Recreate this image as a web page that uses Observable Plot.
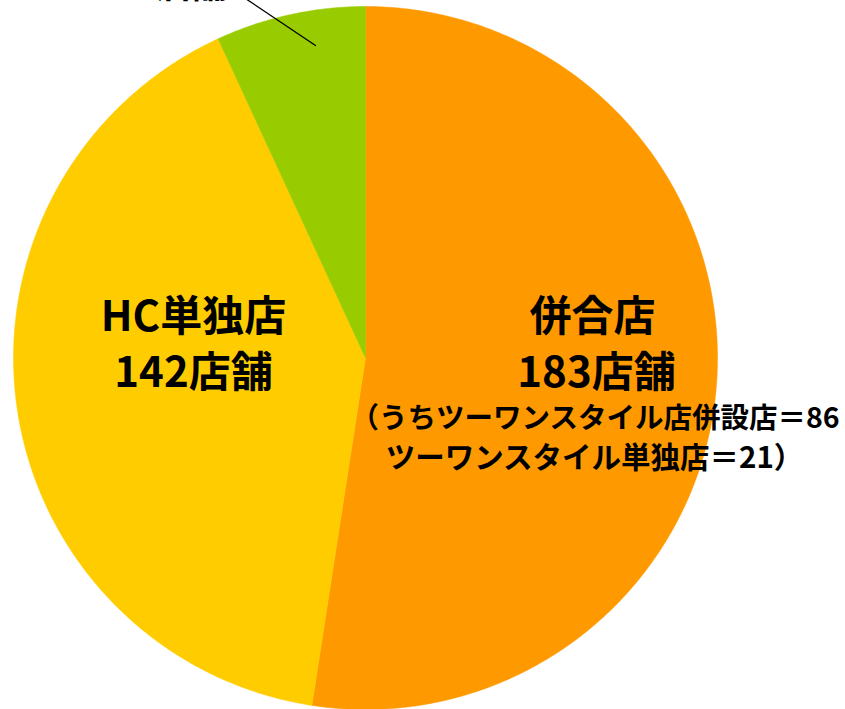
<!DOCTYPE html>
<html><head><meta charset="utf-8">
<script src="https://cdn.jsdelivr.net/npm/d3@7"></script>
<script src="https://cdn.jsdelivr.net/npm/@observablehq/plot@0.6"></script>
<style>
html,body{margin:0;padding:0;background:#fff;overflow:hidden;}
svg{display:block;}
</style></head>
<body><div id="chart"></div>
<script>
const categories = ["併合店", "HC単独店", "その他"];
const values = [183, 142, 24];
const colors = ["#FF9900", "#FFCC00", "#99CC00"];

const W = 845, H = 709;
const total = d3.sum(values);
const slices = [];
let acc = 0;
categories.forEach((c, i) => {
  const a0 = acc / total * 2 * Math.PI;
  acc += values[i];
  const a1 = acc / total * 2 * Math.PI;
  const pts = [{x: 0, y: 0}];
  const n = Math.max(2, Math.ceil((a1 - a0) / (Math.PI / 360)));
  for (let k = 0; k <= n; k++) {
    const a = a0 + (a1 - a0) * k / n;
    pts.push({x: Math.sin(a), y: Math.cos(a)});
  }
  pts.push({x: 0, y: 0});
  slices.push({name: c, color: colors[i], pts});
});

const font = "'Noto Sans CJK JP', 'Noto Sans', sans-serif";
const px = (v) => (v - 365) / 352;
const py = (v) => (357.5 - v) / 351.5;
const bigLabels = [
  {x: px(592), y: py(317), t: categories[0]},
  {x: px(596), y: py(373), t: values[0] + "店舗"},
  {x: px(193), y: py(317), t: "HC単独店"},
  {x: px(193), y: py(373), t: values[1] + "店舗"}
];
const noteStart = [{x: px(350), y: py(418), t: "（うちツーワンスタイル店併設店＝86"}];
const noteMid = [{x: px(594), y: py(458), t: "ツーワンスタイル単独店＝21）"}];
const otherLabel = [{x: px(170), y: py(-14), t: values[2] + "店舗"}];
const leader = [{x: px(315), y: py(45)}, {x: px(236), y: py(-8)}];

const plot = Plot.plot({
  width: W, height: H,
  marginLeft: 13, marginRight: W - 717, marginTop: 6, marginBottom: 0,
  x: {domain: [-1, 1], axis: null},
  y: {domain: [-1, 1], axis: null},
  style: {background: "#fff", overflow: "hidden"},
  marks: [
    ...slices.map(s => Plot.line(s.pts, {x: "x", y: "y", fill: s.color, stroke: s.color, strokeWidth: 0.5})),
    Plot.line(leader, {x: "x", y: "y", stroke: "#000", strokeWidth: 1.3}),
    Plot.text(bigLabels, {x: "x", y: "y", text: "t", fontSize: 42, fontWeight: 700, fontFamily: font, fill: "#000"}),
    Plot.text(noteStart, {x: "x", y: "y", text: "t", textAnchor: "start", fontSize: 28.5, fontWeight: 700, fontFamily: font, fill: "#000"}),
    Plot.text(noteMid, {x: "x", y: "y", text: "t", textAnchor: "middle", fontSize: 29.5, fontWeight: 700, fontFamily: font, fill: "#000"}),
    Plot.text(otherLabel, {x: "x", y: "y", text: "t", fontSize: 36, fontWeight: 700, fontFamily: font, fill: "#000"})
  ]
});
document.getElementById("chart").appendChild(plot);
</script></body></html>
